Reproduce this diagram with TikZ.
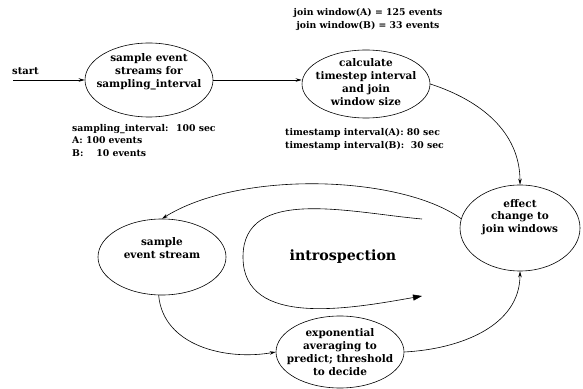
\documentclass[tikz,border=0pt]{standalone}
\usepackage{fontspec}
\setmainfont{DejaVu Serif}
\usetikzlibrary{shapes.geometric,arrows.meta}

\begin{document}
\begin{tikzpicture}[x=1pt,y=1pt,
	etat/.style={draw,ellipse,line width=0.6pt,inner sep=0pt},
	texte/.style={inner sep=0pt,align=center,font=\bfseries\fontsize{10.5}{12.8}\selectfont},
	note/.style={inner sep=0pt,font=\bfseries\fontsize{9.3}{12.8}\selectfont},
	fleche/.style={line width=0.6pt,-{Stealth[length=6pt,width=3.5pt]}}]
%	Cadre :
	\useasboundingbox (0,0) rectangle (583,388);
%	Tracé des états :
	\node[etat,minimum width=128pt,minimum height=74pt,
		label={[texte,yshift=8pt]center:{sample event\\streams for\\sampling\_interval}}] (echant) at (149,308) {};
	\node[etat,minimum width=128pt,minimum height=68pt,
		label={[texte,yshift=2pt]center:{calculate\\timestep interval\\and join\\window size}}] (calcul) at (366,304) {};
	\node[etat,minimum width=120pt,minimum height=86pt,
		label={[texte,yshift=11pt]center:{effect\\change to\\join windows}}] (effet) at (520,160) {};
	\node[etat,minimum width=128pt,minimum height=76pt,
		label={[texte,yshift=9pt]center:{sample\\event stream}}] (flux) at (162,131) {};
	\node[etat,minimum width=128pt,minimum height=72pt,
		label={[texte]center:{exponential\\averaging to\\predict; threshold\\to decide}}] (expo) at (340,36) {};
%	Textes :
	\node[note,anchor=west,font=\bfseries\fontsize{10}{12}\selectfont] (startlbl) at (12,317) {start};
	\coordinate (debut) at (13,308);
	\node[note,align=center] (fenetres) at (368,368.5) {join window(A) = 125 events\\join window(B) = 33 events};
	\node[note,align=left,anchor=west] (pas) at (285,248.5) {timestamp interval(A): 80 sec\\timestamp interval(B): \ 30 sec};
	\node[note,align=left,anchor=west] (params) at (72,247.5) {sampling\_interval: \ 100 sec\\A: 100 events\\B: \ \phantom{1}10 events};
	\node[inner sep=0pt,font=\bfseries\fontsize{14.2}{16}\selectfont] (intro) at (343,131) {introspection};
%	Tracé des flèches :
	\draw[fleche] (debut) -- (echant.west);
	\draw[fleche] (echant.east) -- (echant.east -| calcul.west);
	\draw[fleche] (calcul.east) to[out=-18,in=90] (effet.north);
	\draw[fleche] (effet.171) .. controls (400,213) and (240,218) .. (flux.north);
	\draw[fleche] (flux.265) to[out=-85,in=190] (expo.west);
	\draw[fleche] (expo.east) to[out=3,in=-90] (effet.south);
%	Boucle :
	\coordinate (bouclea) at (422,169);
	\coordinate (bouclec) at (243,131);
	\coordinate (boucleb) at (422,92);
	\draw[line width=0.6pt,-{Triangle[length=9pt,width=6pt]}] (bouclea) to[out=175,in=90] (bouclec) to[out=-90,in=190] (boucleb);
\end{tikzpicture}
\end{document}
